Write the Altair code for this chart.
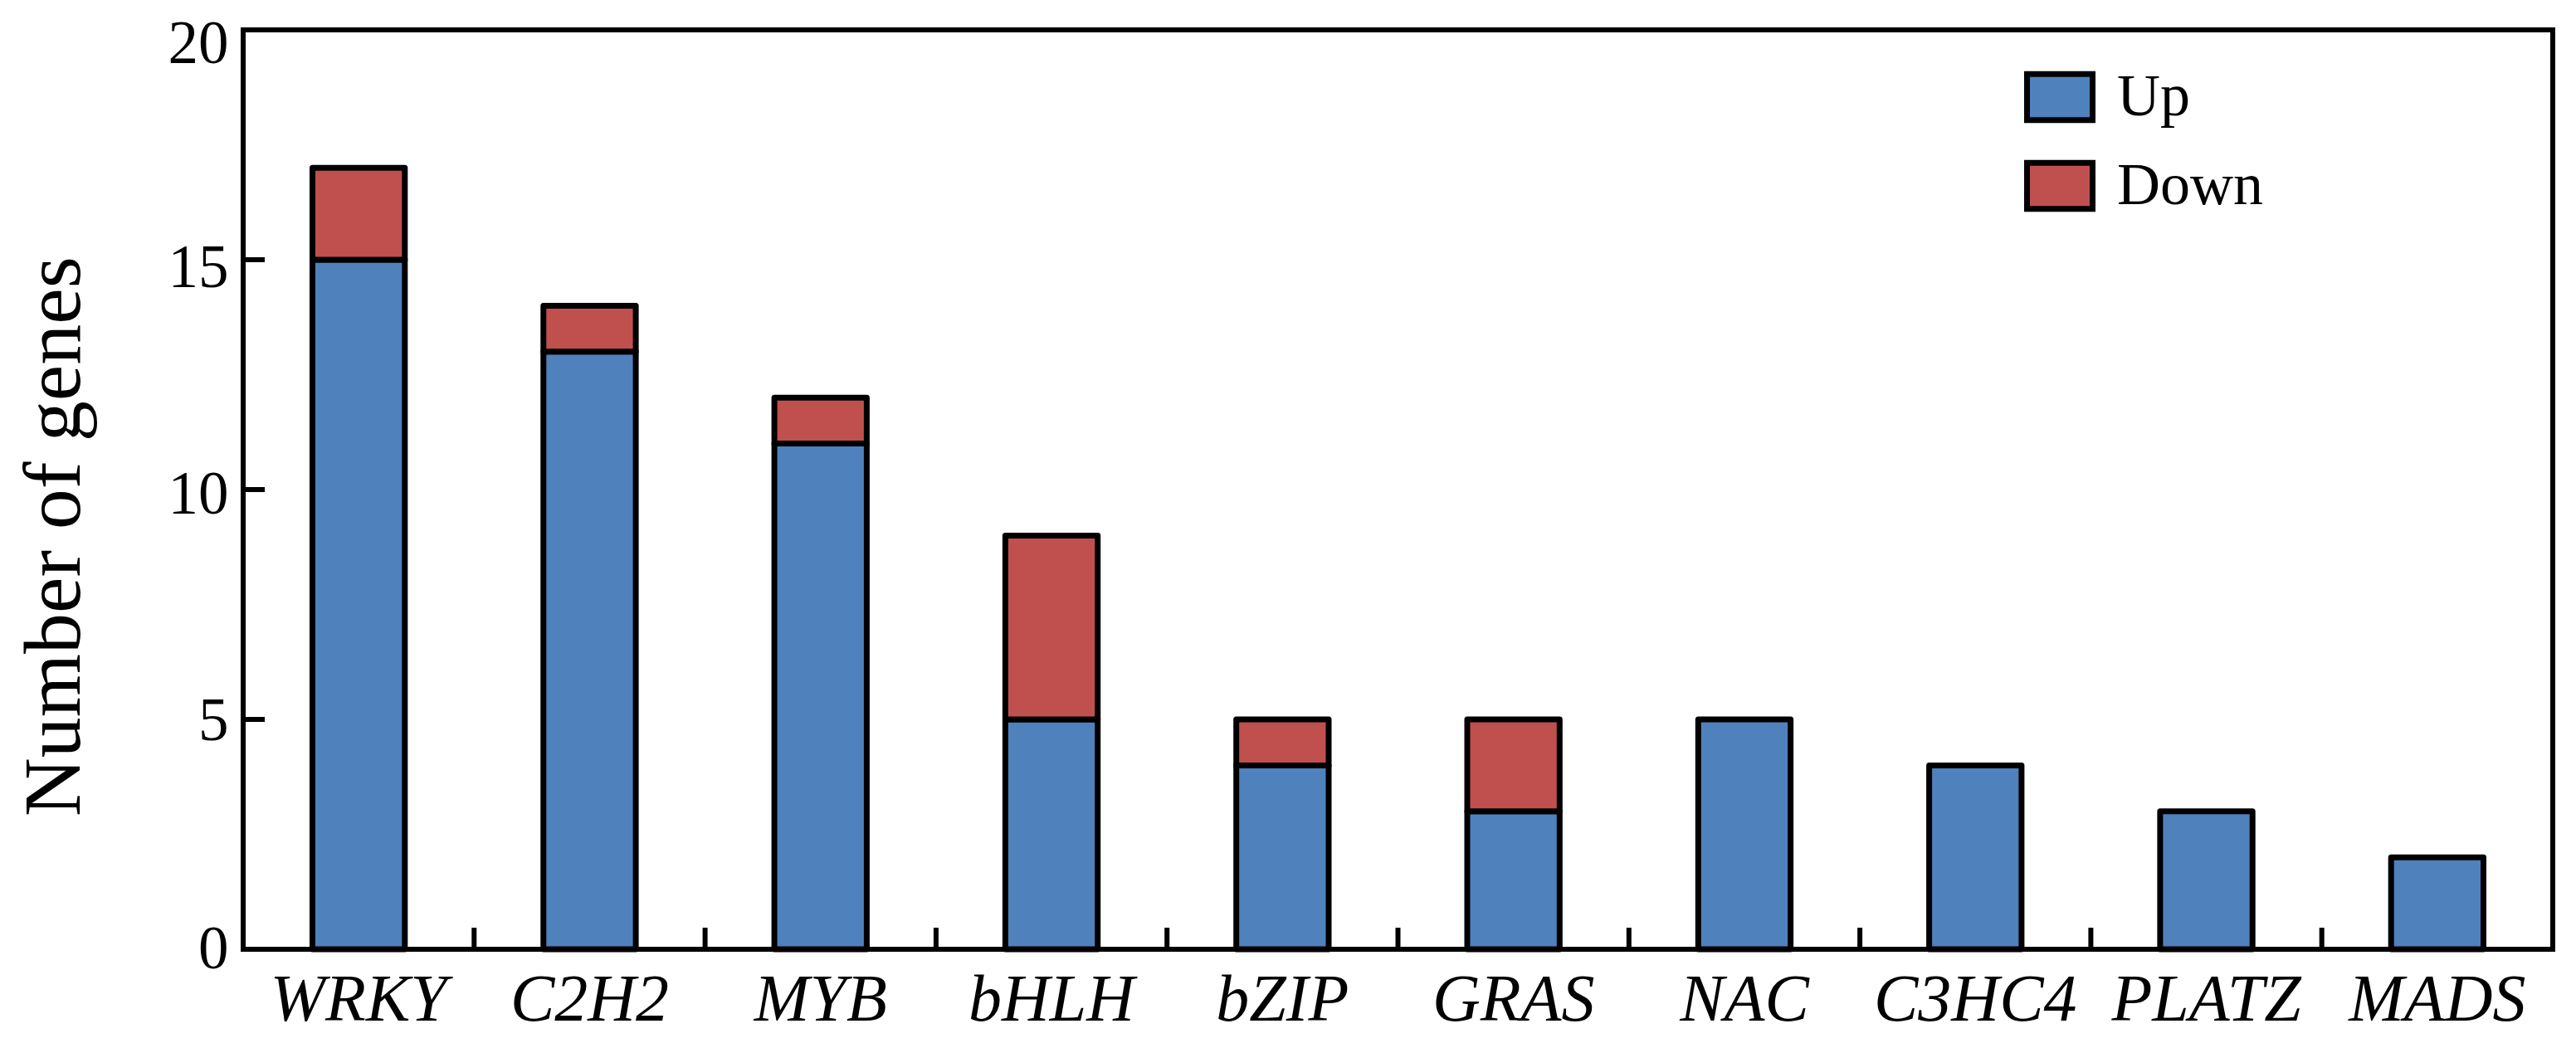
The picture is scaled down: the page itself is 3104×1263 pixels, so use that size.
import altair as alt
import pandas as pd

categories = ["WRKY", "C2H2", "MYB", "bHLH", "bZIP", "GRAS", "NAC", "C3HC4", "PLATZ", "MADS"]
up_counts = [15, 13, 11, 5, 4, 3, 5, 4, 3, 2]
down_counts = [2, 1, 1, 4, 1, 2, 0, 0, 0, 0]
series = ["Up", "Down"]
series_colors = ["#4F81BD", "#C0504D"]
y_ticks = [0, 5, 10, 15, 20]

rows = []
for c, u, d in zip(categories, up_counts, down_counts):
    if u > 0:
        rows.append({"family": c, "direction": "Up", "count": u, "ord": 0})
    if d > 0:
        rows.append({"family": c, "direction": "Down", "count": d, "ord": 1})
df = pd.DataFrame(rows)
cat_df = pd.DataFrame({"family": categories})
ytick_df = pd.DataFrame({"count": y_ticks})

FONT = "Liberation Serif"
W, H = 2783, 1108
TICK = 26

label_shift = {
    "condition": [
        {"test": "datum.value >= 20", "value": 17},
        {"test": "datum.value >= 15", "value": 10},
        {"test": "datum.value >= 10", "value": 6},
        {"test": "datum.value >= 5", "value": 2},
    ],
    "value": 0,
}

y_axis = alt.Axis(values=y_ticks, title="Number of genes", titleFont=FONT, titleFontSize=98,
                  titleFontWeight="normal", titleColor="black", titlePadding=86, titleY=610,
                  labelFont=FONT, labelFontSize=73, labelColor="black", labelPadding=18,
                  labelOffset=label_shift, labelLimit=0, ticks=False, domain=False, grid=False)
y_scale = alt.Scale(domain=[0, 20], nice=False)

bars = alt.Chart(df).mark_bar(stroke="black", strokeWidth=7, strokeJoin="round", opacity=1).encode(
    x=alt.X("family:N", sort=categories, scale=alt.Scale(paddingInner=0.6, paddingOuter=0.3),
            axis=alt.Axis(title=None, labelFont=FONT, labelFontStyle="italic", labelFontSize=80,
                          labelColor="black", labelPadding=22, labelLimit=0, ticks=False,
                          domain=False, labelAngle=0, grid=False)),
    y=alt.Y("count:Q", stack="zero", scale=y_scale, axis=y_axis),
    color=alt.Color("direction:N", scale=alt.Scale(domain=series, range=series_colors),
                    legend=alt.Legend(title=None, orient="none", legendX=2146, legendY=38,
                                      symbolType="M-1,-0.7L1,-0.7L1,0.7L-1,0.7Z", symbolSize=6241,
                                      symbolStrokeColor="black", symbolStrokeWidth=7, symbolOpacity=1,
                                      labelFont=FONT, labelFontSize=72, labelColor="black",
                                      labelLimit=0, labelOffset=26, rowPadding=22, padding=0)),
    order=alt.Order("ord:Q"),
)

xticks = alt.Chart(cat_df).mark_rule(color="black", strokeWidth=6).encode(
    x=alt.X("family:N", sort=categories, bandPosition=0,
            scale=alt.Scale(paddingInner=0, paddingOuter=0), axis=None),
    y=alt.value(H - TICK),
    y2=alt.value(H),
)

yticks = alt.Chart(ytick_df).mark_rule(color="black", strokeWidth=6).encode(
    y=alt.Y("count:Q", scale=y_scale, axis=y_axis),
    x=alt.value(0),
    x2=alt.value(TICK),
)

chart = alt.layer(bars, xticks, yticks).resolve_scale(x="independent").properties(
    width=W, height=H,
    autosize=alt.AutoSizeParams(type="none"),
    padding={"left": 285, "top": 28, "right": 20, "bottom": 111},
).configure_view(stroke="black", strokeWidth=6).configure_axis(grid=False)

chart.save("out.html", embed_options={"renderer": "svg", "actions": False})
